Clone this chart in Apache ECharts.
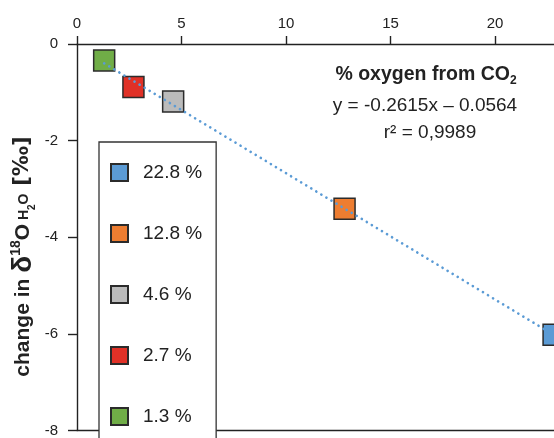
<!DOCTYPE html>
<html>
<head>
<meta charset="utf-8">
<script src="https://cdn.jsdelivr.net/npm/echarts@6/dist/echarts.min.js"></script>
<style>
html,body{margin:0;padding:0;background:#fff;}
#chart{width:554px;height:438px;}
</style>
</head>
<body>
<div id="chart"></div>
<script>
// ---- data ----
const seriesNames = ['22.8 %', '12.8 %', '4.6 %', '2.7 %', '1.3 %'];
const xValues = [22.8, 12.8, 4.6, 2.7, 1.3];
const yValues = [-6.02, -3.41, -1.19, -0.89, -0.34];
const trendX = [1.3, 22.8];
const trendY = [-0.40, -6.02];
const xTickValues = [0, 5, 10, 15, 20];
const xAxisMax = 22.82; // right edge of the (cropped) plot
const annotationLines = ['% oxygen from CO', 'y = -0.2615x \u2013 0.0564', 'r\u00b2 = 0,9989'];

// ---- styles ----
const colors = ['#5B9BD5', '#ED7D31', '#BBBBBB', '#E03127', '#70AD47'];
const FONT = '"Liberation Sans", Arial, Helvetica, sans-serif';
const INK = '#222';

const chart = echarts.init(document.getElementById('chart'), null, {renderer: 'canvas'});

const scatterSeries = seriesNames.map((name, i) => ({
  name: name,
  type: 'scatter',
  symbol: 'rect',
  symbolSize: 21,
  z: 3,
  clip: false,
  itemStyle: {color: colors[i], borderColor: '#2b2b2b', borderWidth: 1.5, opacity: 1},
  data: [[xValues[i], yValues[i]]]
}));

const trendSeries = {
  name: 'trend',
  type: 'line',
  showSymbol: false,
  symbol: 'none',
  z: 5,
  silent: true,
  clip: false,
  lineStyle: {color: '#5B9BD5', width: 2.6, type: [0.1, 5.8], cap: 'round'},
  data: trendX.map((x, i) => [x, trendY[i]])
};

const option = {
  animation: false,
  backgroundColor: '#fff',
  textStyle: {fontFamily: FONT},
  grid: {left: 77, top: 44, right: 0, bottom: 4, containLabel: false},
  xAxis: [{
    type: 'value', position: 'top', min: 0, max: xAxisMax, interval: 5,
    axisLine: {show: true, lineStyle: {color: INK, width: 1.4}},
    axisTick: {show: true, inside: false, length: 8, customValues: xTickValues, lineStyle: {color: INK, width: 1.4}},
    axisLabel: {fontSize: 15, color: INK, margin: 13, fontFamily: FONT, customValues: xTickValues},
    splitLine: {show: false}
  }, {
    type: 'value', position: 'bottom', min: 0, max: xAxisMax, interval: 5,
    axisLine: {show: true, onZero: false, lineStyle: {color: INK, width: 1.4}},
    axisTick: {show: false}, axisLabel: {show: false}, splitLine: {show: false}
  }],
  yAxis: {
    type: 'value', min: -8, max: 0, interval: 2,
    axisLine: {show: true, onZero: false, lineStyle: {color: INK, width: 1.4}},
    axisTick: {show: true, inside: false, length: 9, lineStyle: {color: INK, width: 1.4}},
    axisLabel: {fontSize: 15, color: INK, margin: 19, fontFamily: FONT},
    splitLine: {show: false}
  },
  legend: {
    data: seriesNames,
    orient: 'vertical',
    left: 99, top: 142, height: 340,
    padding: [21, 14, 60, 11],
    itemWidth: 17, itemHeight: 17, itemGap: 42,
    icon: 'rect',
    selectedMode: false,
    borderColor: '#333', borderWidth: 1.3, backgroundColor: '#fff',
    textStyle: {fontSize: 19, color: INK, fontFamily: FONT, lineHeight: 17, padding: [0, 0, 0, 10]}
  },
  series: [...scatterSeries, trendSeries],
  graphic: [
    {
      type: 'text', x: 426, y: 75, z: 10,
      style: {
        text: '{t|' + annotationLines[0] + '}{s|2}',
        align: 'center', verticalAlign: 'middle', fill: INK,
        rich: {
          t: {fontSize: 19.5, fontWeight: 'bold', fontFamily: FONT, fill: INK, lineHeight: 24},
          s: {fontSize: 12, fontWeight: 'bold', fontFamily: FONT, fill: INK, lineHeight: 12, verticalAlign: 'bottom'}
        }
      }
    },
    {
      type: 'text', x: 425, y: 106, z: 10,
      style: {text: annotationLines[1], align: 'center', verticalAlign: 'middle', fill: INK, font: '19px ' + FONT}
    },
    {
      type: 'text', x: 430, y: 133, z: 10,
      style: {text: annotationLines[2], align: 'center', verticalAlign: 'middle', fill: INK, font: '19px ' + FONT}
    },
    {
      type: 'text', x: 23, y: 256.5, rotation: Math.PI / 2, z: 10,
      style: {
        text: '{b|change in }{d|\u03b4}{sup|18}{b|O}{h| H}{hs|2}{h|O  }{p|[\u2030]}',
        align: 'center', verticalAlign: 'middle', fill: INK,
        rich: {
          b: {fontSize: 21, fontWeight: 'bold', fontFamily: FONT, fill: INK, lineHeight: 28},
          p: {fontSize: 21, fontWeight: 'bold', fontFamily: '"DejaVu Sans", sans-serif', fill: INK, lineHeight: 28},
          d: {fontSize: 28, fontWeight: 'bold', fontFamily: FONT, fill: INK, lineHeight: 28},
          sup: {fontSize: 14, fontWeight: 'bold', fontFamily: FONT, fill: INK, lineHeight: 14, verticalAlign: 'top'},
          h: {fontSize: 14, fontWeight: 'bold', fontFamily: FONT, fill: INK, lineHeight: 28, verticalAlign: 'middle', padding: [3, 0, 0, 0]},
          hs: {fontSize: 10, fontWeight: 'bold', fontFamily: FONT, fill: INK, lineHeight: 18, verticalAlign: 'bottom'}
        }
      }
    }
  ]
};

chart.setOption(option);
</script>
</body>
</html>
